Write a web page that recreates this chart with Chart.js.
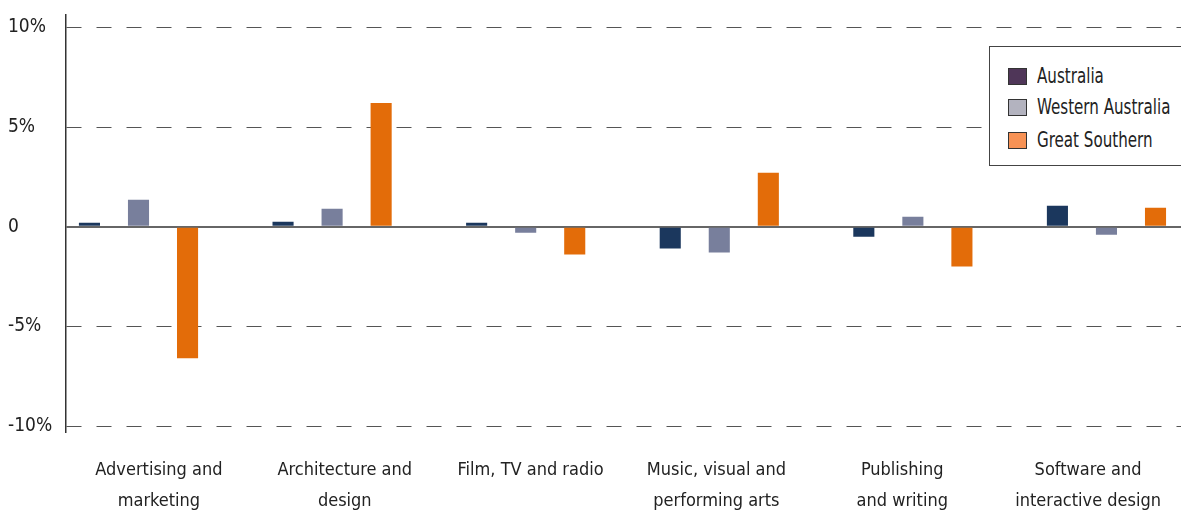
<!DOCTYPE html>
<html>
<head>
<meta charset="utf-8">
<script src="https://cdn.jsdelivr.net/npm/chart.js@4/dist/chart.umd.min.js"></script>
<style>
  body { margin: 0; background: #fff; }
  #wrap { position: relative; width: 1181px; height: 510px; overflow: hidden; }
  #legend {
    position: absolute; left: 989px; top: 46px; width: 210px; height: 120px;
    border: 1.5px solid #444; background: #fff; box-sizing: border-box;
    font-family: "DejaVu Sans Condensed", "DejaVu Sans", sans-serif;
    font-size: 21px; color: #222;
  }
  .row { position: absolute; left: 18px; height: 20px; display: flex; align-items: center; white-space: nowrap; }
  .sw { width: 17px; height: 15px; border: 1px solid #333; margin-right: 10px; flex: none; }
  .txt { display: inline-block; transform: scaleX(0.8); transform-origin: left center; }
</style>
</head>
<body>
<div id="wrap">
  <canvas id="myChart" width="1181" height="510"></canvas>
  <div id="legend"></div>
</div>
<script>
const fontFamily = '"DejaVu Sans Condensed", "DejaVu Sans", sans-serif';

const categories = [
  ["Advertising and", "marketing"],
  ["Architecture and", "design"],
  "Film, TV and radio",
  ["Music, visual and", "performing arts"],
  ["Publishing", "and writing"],
  ["Software and", "interactive design"],
];
const australia = [0.2, 0.25, 0.2, -1.1, -0.5, 1.05];
const westernAustralia = [1.35, 0.9, -0.3, -1.3, 0.5, -0.4];
const greatSouthern = [-6.6, 6.2, -1.4, 2.7, -2.0, 0.95];
const yTicks = [-10, -5, 0, 5, 10];

const seriesNames = ["Australia", "Western Australia", "Great Southern"];
const barColors = ["#1b375d", "#787f9c", "#e36c09"];
const legendColors = ["#4f3658", "#b3b3bf", "#f79255"];

// html legend, boxed like the original
const legend = document.getElementById("legend");
const rowTops = [19, 50, 83];
seriesNames.forEach((name, i) => {
  const row = document.createElement("div");
  row.className = "row";
  row.style.top = rowTops[i] + "px";
  row.innerHTML = '<span class="sw" style="background:' + legendColors[i] + '"></span><span class="txt">' + name + "</span>";
  legend.appendChild(row);
});

function points(values) {
  return values.map((v, i) => ({ x: i, y: v }));
}

const ctx = document.getElementById("myChart").getContext("2d");

const chart = new Chart(ctx, {
  type: "bar",
  data: {
    labels: categories,
    datasets: [australia, westernAustralia, greatSouthern].map((values, i) => ({
      label: seriesNames[i],
      data: points(values),
      xAxisID: "xBars",
      backgroundColor: barColors[i],
      borderWidth: 0,
      categoryPercentage: 0.76,
      barPercentage: 0.43,
    })),
  },
  options: {
    responsive: false,
    animation: false,
    devicePixelRatio: 1,
    layout: { padding: { left: 8, top: 13, right: 0, bottom: 0 } },
    plugins: { legend: { display: false }, tooltip: { enabled: false } },
    scales: {
      x: {
        type: "category",
        labels: categories,
        offset: true,
        grid: { display: false },
        border: { display: false },
        ticks: {
          color: "#222",
          font: { family: fontFamily, size: 18, lineHeight: 1.7 },
          padding: 15,
          maxRotation: 0,
          autoSkip: false,
        },
        afterFit: (scale) => {
          scale.height = 78;
          scale.paddingLeft = 0;
          scale.paddingRight = 0;
        },
      },
      xBars: {
        type: "linear",
        display: false,
        offset: false,
        min: -0.3745,
        max: 5.385,
        afterBuildTicks: (scale) => {
          scale.ticks = categories.map((c, i) => ({ value: i }));
        },
      },
      y: {
        min: -10.3,
        max: 10.65,
        afterBuildTicks: (scale) => {
          scale.ticks = yTicks.map((v) => ({ value: v }));
        },
        afterFit: (scale) => { scale.width = 58; },
        ticks: {
          color: "#222",
          crossAlign: "far",
          font: { family: fontFamily, size: 19 },
          callback: (v) => (v === 0 ? "0" : v + "%"),
        },
        grid: {
          drawTicks: false,
          color: (c) => (c.tick && c.tick.value === 0 ? "#666" : "#555"),
          lineWidth: (c) => (c.tick && c.tick.value === 0 ? 2 : 1),
        },
        border: {
          display: true,
          color: "#333",
          width: 1.5,
          dash: (c) => (c.tick && c.tick.value !== 0 ? [15, 15] : []),
        },
      },
    },
  },
});
</script>
</body>
</html>
